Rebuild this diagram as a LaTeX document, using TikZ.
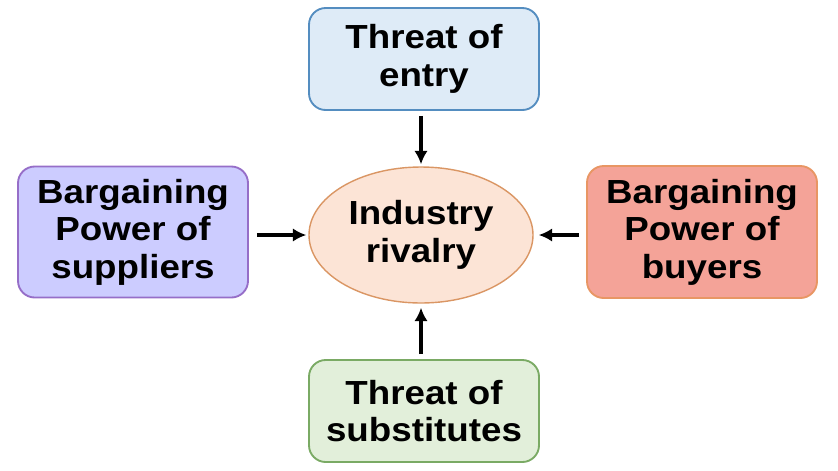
\documentclass[tikz,border=0pt]{standalone}
\usepackage{fontspec}
\newfontfamily\porterfont{Liberation Sans}[FakeStretch=1.1]
\usetikzlibrary{arrows.meta,shapes.geometric}
\definecolor{entryfill}{RGB}{222,235,247}
\definecolor{entryline}{RGB}{84,141,192}
\definecolor{supfill}{RGB}{204,204,255}
\definecolor{supline}{RGB}{150,110,200}
\definecolor{buyfill}{RGB}{244,163,152}
\definecolor{buyline}{RGB}{232,150,100}
\definecolor{rivfill}{RGB}{252,228,214}
\definecolor{rivline}{RGB}{218,150,100}
\definecolor{subfill}{RGB}{226,239,218}
\definecolor{subline}{RGB}{122,170,100}

\begin{document}
\begin{tikzpicture}[
  every node/.style={font=\porterfont\bfseries\fontsize{28.5}{32}\selectfont, align=center},
  force/.style={rectangle, rounded corners=0.5cm, line width=1.6pt,
                minimum width=6.9cm, inner sep=0pt},
  arr/.style={-{Latex[length=0.4cm, width=0.4cm]}, line width=2.6pt}
]
\useasboundingbox (0,0) rectangle (25.14,-14.1);

% The five forces
\node[force, draw=entryline, fill=entryfill, minimum height=3.06cm]
  (entry) at (12.72,-1.77) {Threat of\\entry};
\node[force, draw=supline, fill=supfill, minimum height=3.93cm]
  (suppliers) at (3.99,-6.96) {Bargaining\\Power of\\suppliers};
\node[force, draw=buyline, fill=buyfill, minimum height=3.96cm]
  (buyers) at (21.06,-6.96) {Bargaining\\Power of\\buyers};
\node[force, draw=subline, fill=subfill, minimum height=3.06cm]
  (subs) at (12.72,-12.33) {Threat of\\substitutes};

% The centre
\node[ellipse, draw=rivline, fill=rivfill, line width=1.2pt, inner sep=0pt,
      minimum width=6.72cm, minimum height=4.08cm]
  (rivalry) at (12.63,-7.05) {Industry\\rivalry};

% Arrows
\draw[arr, shorten <=0.15cm, shorten >=0.06cm] (entry.south -| rivalry) -- (rivalry.north);
\draw[arr, shorten <=0.24cm, shorten >=0.06cm] (suppliers.east |- rivalry) -- (rivalry.west);
\draw[arr, shorten <=0.21cm, shorten >=0.15cm] (buyers.west |- rivalry) -- (rivalry.east);
\draw[arr, shorten <=0.15cm, shorten >=0.12cm] (subs.north -| rivalry) -- (rivalry.south);

\end{tikzpicture}
\end{document}
